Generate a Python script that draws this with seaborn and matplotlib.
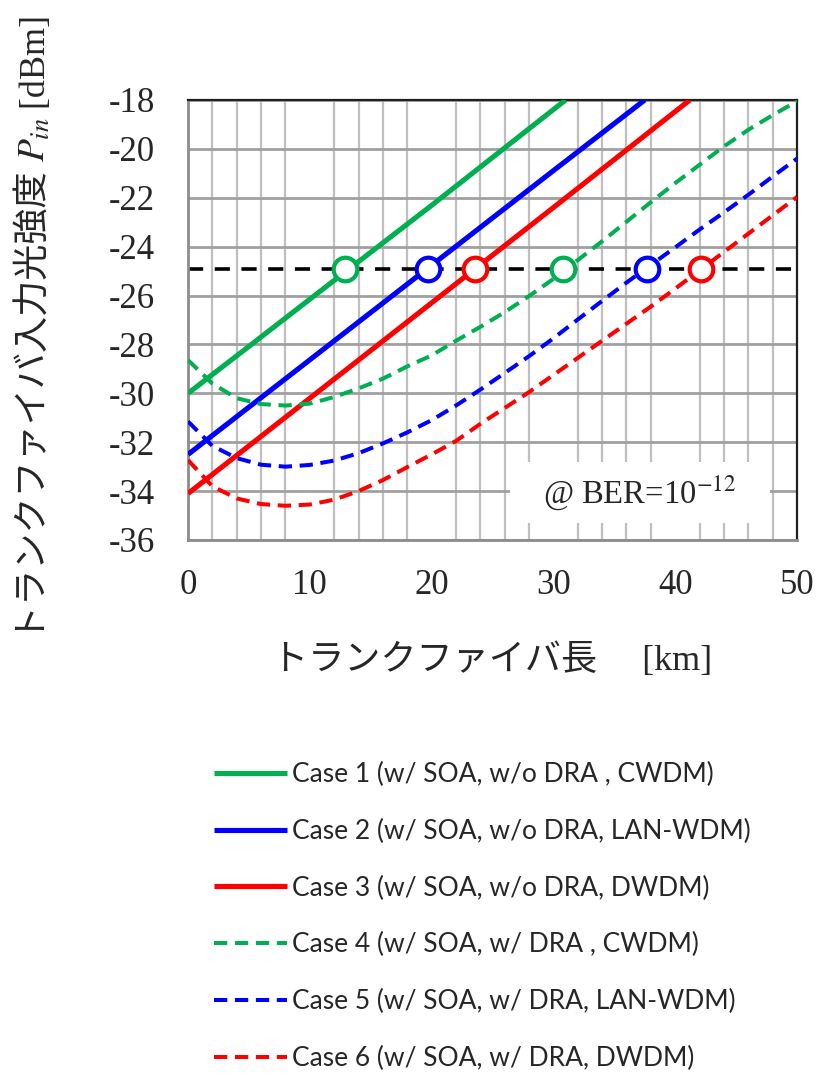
import numpy as np
import pandas as pd
import matplotlib
matplotlib.use("Agg")
import matplotlib.pyplot as plt
import seaborn as sns
from matplotlib.transforms import IdentityTransform
from matplotlib.patches import Rectangle

# ---------------- data ----------------
case1_km = [0, 5, 10, 15, 20, 25, 31]
case1_p = [-30.0, -28.08, -26.15, -24.23, -22.31, -20.35, -18.0]
case2_km = [0, 10, 20, 30, 37.5]
case2_p = [-32.5, -28.63, -24.76, -20.89, -18.0]
case3_km = [0, 10, 20, 30, 41.2]
case3_p = [-34.1, -30.2, -26.3, -22.4, -18.0]

dra_km = [0, 2, 4, 6, 8, 10, 12, 14, 16, 18, 20, 22, 24, 26, 28, 30,
          32, 34, 36, 38, 40, 42, 44, 46, 48, 50]
case4_p = [-28.64, -29.6, -30.2, -30.44, -30.5, -30.42, -30.15, -29.8, -29.4,
           -28.9, -28.45, -27.85, -27.28, -26.68, -26.02, -25.32, -24.55,
           -23.78, -22.98, -22.18, -21.4, -20.65, -19.9, -19.22, -18.62, -18.05]
case5_p = [-31.15, -32.15, -32.65, -32.92, -33.0, -32.93, -32.75, -32.45,
           -32.05, -31.6, -31.1, -30.5, -29.85, -29.17, -28.48, -27.75,
           -26.98, -26.22, -25.47, -24.75, -24.03, -23.3, -22.6, -21.88,
           -21.13, -20.4]
case6_p = [-32.73, -33.8, -34.3, -34.53, -34.6, -34.55, -34.35, -34.0, -33.55,
           -33.02, -32.5, -31.95, -31.25, -30.6, -29.95, -29.25, -28.55,
           -27.85, -27.15, -26.45, -25.72, -24.97, -24.22, -23.47, -22.72,
           -21.97]

threshold = -24.9
cross_km = [12.9, 19.7, 23.6, 30.8, 37.7, 42.1]

labels = ["Case 1 (w/ SOA, w/o DRA , CWDM)",
          "Case 2 (w/ SOA, w/o DRA, LAN-WDM)",
          "Case 3 (w/ SOA, w/o DRA, DWDM)",
          "Case 4 (w/ SOA, w/ DRA , CWDM)",
          "Case 5 (w/ SOA, w/ DRA, LAN-WDM)",
          "Case 6 (w/ SOA, w/ DRA, DWDM)"]
xticks = [0, 10, 20, 30, 40, 50]
yticks = [-18, -20, -22, -24, -26, -28, -30, -32, -34, -36]

xlabel = "トランクファイバ長\u3000 [km]"
ylabel_jp = "トランクファイバ入力光強度"
note = "@ BER=10$^{-12}$"

# ---------------- style ----------------
sns.set_style("white")
plt.rcParams["font.family"] = ["Liberation Serif", "Noto Sans CJK JP", "DejaVu Sans"]
plt.rcParams["mathtext.fontset"] = "stix"
plt.rcParams["axes.unicode_minus"] = False

GREEN, BLUE, RED = "#00B050", "#0000FF", "#FF0000"
colors = [GREEN, BLUE, RED, GREEN, BLUE, RED]

W, H = 821, 1075
fig = plt.figure(figsize=(W / 100, H / 100), dpi=100)
ax = fig.add_axes([188 / W, 1 - 540 / H, (797 - 188) / W, (540 - 100) / H])

series = [(case1_km, case1_p), (case2_km, case2_p), (case3_km, case3_p),
          (dra_km, case4_p), (dra_km, case5_p), (dra_km, case6_p)]
for i, ((xs, ys), lab, col) in enumerate(zip(series, labels, colors)):
    df = pd.DataFrame({"km": xs, "p": ys})
    if i < 3:
        sns.lineplot(data=df, x="km", y="p", ax=ax, color=col, lw=3.7,
                     label=lab, errorbar=None, zorder=3, solid_capstyle="butt")
    else:
        sns.lineplot(data=df, x="km", y="p", ax=ax, color=col, lw=2.9,
                     linestyle=(0, (3.3, 1.9)), label=lab, errorbar=None,
                     zorder=3, dash_capstyle="butt")

# threshold line
ax.axhline(threshold, color="black", lw=2.6, linestyle=(0, (4.2, 3.2)), zorder=2.5)

# crossing markers
for xk, col in zip(cross_km, colors):
    ax.plot([xk], [threshold], marker="o", ms=17, mfc="white", mec=col,
            mew=3.0, zorder=4, linestyle="none")

ax.set_xlim(0, 50)
ax.set_ylim(-36, -18)
ax.set_xticks(xticks)
ax.set_yticks(yticks)
ax.set_xticks(np.arange(0, 51, 2), minor=True)
ax.tick_params(axis="both", which="both", length=0, labelsize=25)
ax.tick_params(axis="y", pad=24)
ax.tick_params(axis="x", pad=21)
ax.set_axisbelow(True)
ax.grid(True, axis="x", which="minor", color="#BFBFBF", lw=1.6)
ax.grid(True, axis="y", which="major", color="#A0A0A0", lw=2.0)
ax.set_xlabel(xlabel, fontsize=26, labelpad=30)
ax.set_ylabel("")

for s in ["left", "bottom"]:
    ax.spines[s].set_color("#8C8C8C")
    ax.spines[s].set_linewidth(2.0)
for s in ["top", "right"]:
    ax.spines[s].set_color("#202020")
    ax.spines[s].set_linewidth(1.6)

# annotation box (covers grid)
ax.add_patch(Rectangle((26.4, -35.3), 21.4, 2.5, facecolor="white",
                       edgecolor="none", zorder=1.2))
ax.text(37.1, -34.05, note, ha="center", va="center", fontsize=23.5, zorder=5)

# legend
leg = ax.legend(loc="upper left", bbox_to_anchor=(214 / W, 1 - 762 / H),
                bbox_transform=fig.transFigure, frameon=False,
                handlelength=2.75, handletextpad=0.22, labelspacing=1.2,
                borderpad=0, borderaxespad=0, prop={"family": "Lato", "size": 19})

# y label composed of pieces (Japanese, italic P_in, unit)
fig.canvas.draw()
r = fig.canvas.get_renderer()
base_x = 45
y = H - 641
pieces = [(ylabel_jp + " ", dict(family=["Liberation Serif", "Noto Sans CJK JP"], size=26)),
          ("$P_{in}$", dict(size=27)),
          (" [dBm]", dict(family=["Liberation Serif"], size=26))]
for s, kw in pieces:
    t = fig.text(base_x, y, s, rotation=90, rotation_mode="anchor",
                 ha="left", va="baseline", transform=IdentityTransform(), **kw)
    bb = t.get_window_extent(r)
    y = bb.y1

fig.savefig("out.png", dpi=100)
